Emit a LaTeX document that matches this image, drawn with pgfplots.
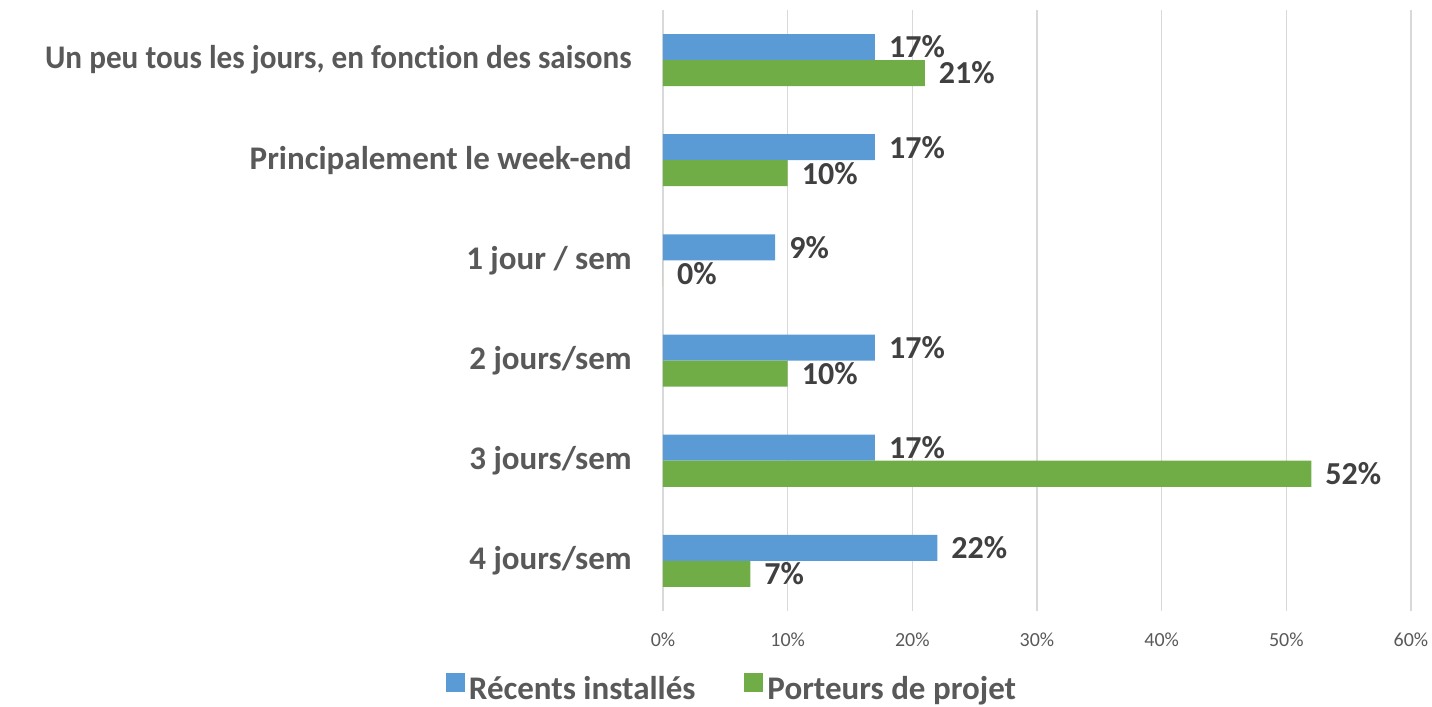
\documentclass[border=0pt]{standalone}
\usepackage{pgfplots}
\pgfplotsset{compat=1.18}
\usepackage{graphicx}
\usepackage{fontspec}
\setmainfont{Carlito}[Ligatures={NoCommon}]
\definecolor{cblue}{HTML}{5B9BD5}
\definecolor{cgreen}{HTML}{70AD47}
\definecolor{ctext}{HTML}{595959}
\definecolor{clabel}{HTML}{404040}
\definecolor{cgrid}{HTML}{D9D9D9}
\begin{document}
\begin{tikzpicture}
\begin{axis}[name=ax, at={(0,0)}, anchor=south west,
  xbar, scale only axis, width=748bp, height=601bp,
  xmin=0, xmax=60, ymin=-0.5, ymax=5.5,
  /pgf/number format/assume math mode=true,
  xtick={0,10,...,60},
  xticklabels={0\%,10\%,20\%,30\%,40\%,50\%,60\%},
  ytick={0,...,5},
  yticklabels={4 jours/sem,3 jours/sem,2 jours/sem,1 jour / sem,Principalement le week-end,{\scalebox{0.945}[1]{Un peu tous les jours, en fonction des saisons}}},
  axis line style={draw=none}, major tick length=0pt,
  xmajorgrids, grid style={cgrid, line width=1.2bp},
  xticklabel style={font=\fontsize{20bp}{24bp}\selectfont, text=ctext, inner sep=0pt, anchor=north, yshift=-22bp},
  yticklabel style={font=\fontsize{33bp}{40bp}\selectfont\bfseries, text=ctext, inner sep=0pt, anchor=east, xshift=-31bp},
  bar width=26bp,
  nodes near coords={\pgfmathprintnumber{\pgfplotspointmeta}\%},
  every node near coord/.append style={anchor=west, inner sep=0pt, xshift=14bp, font=\fontsize{32bp}{38bp}\selectfont\bfseries, text=clabel},
  legend style={at={(0.0936,-0.127)}, anchor=center, draw=none, fill=none, inner sep=0pt,
    font=\fontsize{33bp}{40bp}\selectfont\bfseries, text=ctext,
    /tikz/every even column/.append style={column sep=45bp},
    nodes={inner sep=0pt, inner xsep=4bp}},
  legend columns=2,
  legend image code/.code={\fill[#1] (0bp,-3bp) rectangle (19bp,16bp);},
]
\addplot[fill=cblue, draw=none, bar shift=13bp] coordinates {(22,0) (17,1) (17,2) (9,3) (17,4) (17,5)};
\addplot[fill=cgreen, draw=none, bar shift=-13bp] coordinates {(7,0) (52,1) (10,2) (0,3) (10,4) (21,5)};
\legend{Récents installés, Porteurs de projet}
\end{axis}
\pgfresetboundingbox
\path (-663bp,-96bp) rectangle (769bp,611bp);
\end{tikzpicture}
\end{document}
